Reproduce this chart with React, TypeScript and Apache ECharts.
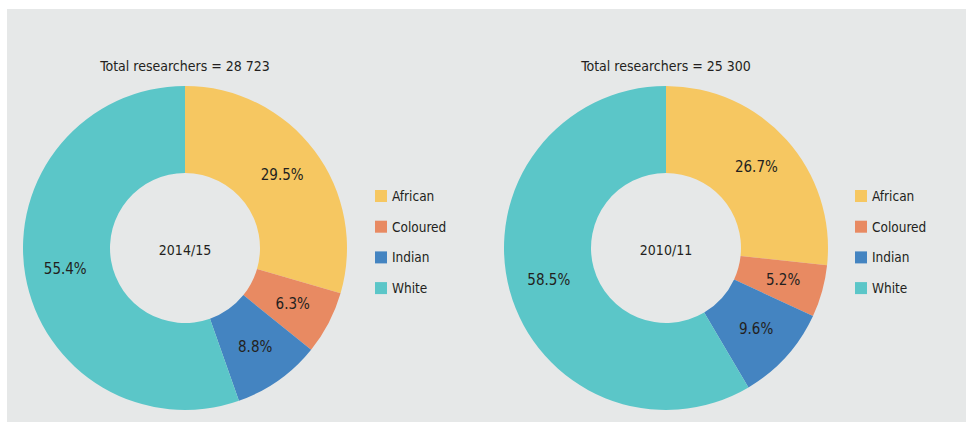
import React, { useEffect, useRef } from "react";
import * as echarts from "echarts";

const categories = ["African", "Coloured", "Indian", "White"];
const colors = ["#F6C761", "#E88A62", "#4484C1", "#5BC6C8"];
const values2014 = [29.5, 6.3, 8.8, 55.4];
const values2010 = [26.7, 5.2, 9.6, 58.5];
const titles = ["Total researchers = 28 723", "Total researchers = 25 300"];
const years = ["2014/15", "2010/11"];

const FONT = "'Liberation Sans Narrow', 'DejaVu Sans Condensed', 'Roboto Condensed', sans-serif";
const TEXT = "#231F20";

export default function App() {
  const ref = useRef<HTMLDivElement>(null);
  useEffect(() => {
    if (!ref.current) return;
    const chart = echarts.init(ref.current, undefined, { renderer: "svg" });
    const centersX = [185, 666];
    const legendX = [375, 855];
    const datasets = [values2014, values2010];
    chart.setOption({
      animation: false,
      color: colors,
      textStyle: { fontFamily: FONT },
      graphic: [
        { type: "rect", shape: { x: 7, y: 9, width: 959, height: 413 }, style: { fill: "#E6E8E8" }, z: -10 },
      ],
      title: [0, 1].flatMap((i) => [
        {
          text: titles[i],
          left: centersX[i],
          top: 56,
          padding: 0,
          textAlign: "center",
          textStyle: { fontFamily: FONT, fontSize: 14, fontWeight: "normal", color: TEXT, lineHeight: 20 },
        },
        {
          text: years[i],
          left: centersX[i],
          top: 240,
          padding: 0,
          textAlign: "center",
          textStyle: { fontFamily: FONT, fontSize: 14, fontWeight: "normal", color: TEXT, lineHeight: 20 },
        },
      ]),
      legend: [0, 1].map((i) => ({
        orient: "vertical",
        left: legendX[i],
        top: 189,
        padding: 0,
        itemWidth: 12,
        itemHeight: 12,
        itemGap: 16.7,
        icon: "rect",
        data: categories,
        selectedMode: false,
        textStyle: { fontFamily: FONT, fontSize: 13.5, color: TEXT, lineHeight: 14 },
      })),
      series: [0, 1].map((i) => ({
        type: "pie",
        center: [centersX[i], 248],
        radius: [75, 162],
        startAngle: 90,
        clockwise: true,
        silent: true,
        label: {
          show: true,
          position: "inside",
          formatter: (p: any) => `${p.value}%`,
          fontFamily: FONT,
          fontSize: 15,
          color: TEXT,
        },
        labelLine: { show: false },
        itemStyle: { borderWidth: 0 },
        data: categories.map((c, k) => ({ name: c, value: datasets[i][k] })),
      })),
    });
    return () => chart.dispose();
  }, []);
  return (
    <div style={{ position: "fixed", left: 0, top: 0, width: 966, height: 422, background: "#fff" }}>
      <div ref={ref} style={{ width: 966, height: 422 }} />
    </div>
  );
}
